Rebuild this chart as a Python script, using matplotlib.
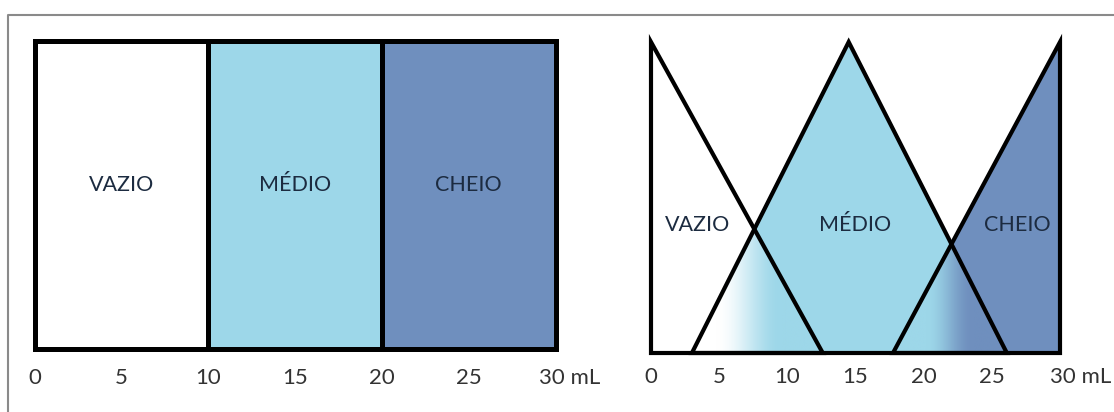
import numpy as np
import matplotlib
matplotlib.use("Agg")
import matplotlib.pyplot as plt
from matplotlib.patches import Polygon, Rectangle
from matplotlib.lines import Line2D
from matplotlib.colors import to_rgba

# ---------------- data ----------------
categories = ["VAZIO", "MÉDIO", "CHEIO"]
crisp_edges = [0, 10, 20, 30]            # crisp set boundaries (mL)
tick_values = [0, 5, 10, 15, 20, 25]
last_tick_value = 30
last_tick_label = "30 mL"

# fuzzy membership functions (x in mL, y membership)
vazio_x = [0, 0, 12.6]
vazio_y = [0, 1, 0]
medio_x = [3, 14.5, 26.1]
medio_y = [0, 1, 0]
cheio_x = [17.75, 30, 30]
cheio_y = [0, 1, 0]

fuzzy_label_x = [3.45, 14.95, 26.9]
fuzzy_label_y = 0.41
crisp_label_y = 0.53

# gradient zones of overlaps (x start, x end)
grad_left = [4.8, 9.5]
grad_right = [20.2, 23.6]

# ---------------- style ----------------
W, H = 1114, 412
DPI = 100
C_EMPTY = "#ffffff"
C_MED = "#9dd7e9"
C_FULL = "#6f8fbe"
LBL_COLOR = "#1c2b40"
TICK_COLOR = "#333333"
FONT = ["Lato", "DejaVu Sans"]
plt.rcParams["font.family"] = FONT
LBL_SIZE = 15.5
TICK_SIZE = 16

fig = plt.figure(figsize=(W / DPI, H / DPI), dpi=DPI)
fig.patch.set_facecolor("white")

def px_rect(left, right, top, bottom):
    return [left / W, (H - bottom) / H, (right - left) / W, (bottom - top) / H]

# outer gray frame (only top and left visible)
fig.add_artist(Line2D([8 / W, 8 / W, 1.0], [0.0, (H - 15) / H, (H - 15) / H],
                      transform=fig.transFigure, color="#8a8a8a", lw=1.5))

def tick_labels(ax, dy_pt, last_dx_pt):
    for v in tick_values:
        ax.annotate(str(v), xy=(v, 0), xycoords=("data", "axes fraction"),
                    xytext=(0, dy_pt), textcoords="offset points",
                    ha="center", va="center", fontsize=TICK_SIZE,
                    color=TICK_COLOR, annotation_clip=False)
    ax.annotate(last_tick_label, xy=(last_tick_value, 0),
                xycoords=("data", "axes fraction"),
                xytext=(last_dx_pt, dy_pt), textcoords="offset points",
                ha="left", va="center", fontsize=TICK_SIZE, color=TICK_COLOR,
                annotation_clip=False)

# ---------------- left: crisp sets ----------------
axL = fig.add_axes(px_rect(34.5, 555.5, 40.5, 348.5))
axL.set_xlim(0, 30)
axL.set_ylim(0, 1)
axL.axis("off")
fills = [C_EMPTY, C_MED, C_FULL]
for i, name in enumerate(categories):
    x0, x1 = crisp_edges[i], crisp_edges[i + 1]
    axL.add_patch(Rectangle((x0, 0), x1 - x0, 1, facecolor=fills[i],
                            edgecolor="black", lw=3.6, joinstyle="miter",
                            clip_on=False))
    axL.text((x0 + x1) / 2, crisp_label_y, name, ha="center", va="center",
             fontsize=LBL_SIZE, color=LBL_COLOR)
tick_labels(axL, -21, -12)

# ---------------- right: fuzzy sets ----------------
axR = fig.add_axes(px_rect(651, 1060, 42, 353))
axR.set_xlim(0, 30)
axR.set_ylim(0, 1)
axR.axis("off")

def seg_intersect(p1, p2, p3, p4):
    (x1, y1), (x2, y2), (x3, y3), (x4, y4) = p1, p2, p3, p4
    d = (x1 - x2) * (y3 - y4) - (y1 - y2) * (x3 - x4)
    t = ((x1 - x3) * (y3 - y4) - (y1 - y3) * (x3 - x4)) / d
    return (x1 + t * (x2 - x1), y1 + t * (y2 - y1))

vazio_pts = list(zip(vazio_x, vazio_y))
medio_pts = list(zip(medio_x, medio_y))
cheio_pts = list(zip(cheio_x, cheio_y))

axR.add_patch(Polygon(medio_pts, closed=True, facecolor=C_MED,
                      edgecolor="none", clip_on=False))
axR.add_patch(Polygon(cheio_pts, closed=True, facecolor=C_FULL,
                      edgecolor="none", clip_on=False))

# overlaps
iL = seg_intersect(vazio_pts[1], vazio_pts[2], medio_pts[0], medio_pts[1])
iR = seg_intersect(medio_pts[1], medio_pts[2], cheio_pts[0], cheio_pts[1])
ovL = [medio_pts[0], iL, vazio_pts[2]]
ovR = [cheio_pts[0], iR, medio_pts[2]]

def gradient_fill(ax, poly_pts, c0, c1, g0, g1):
    xs = [p[0] for p in poly_pts]
    ys = [p[1] for p in poly_pts]
    xmin, xmax = min(xs), max(xs)
    ymax = max(ys)
    n = 400
    xx = np.linspace(xmin, xmax, n)
    t = np.clip((xx - g0) / (g1 - g0), 0, 1)
    t = t * t * (3 - 2 * t)
    a, b = np.array(to_rgba(c0)), np.array(to_rgba(c1))
    img = (a[None, :] * (1 - t[:, None]) + b[None, :] * t[:, None])[None, :, :]
    im = ax.imshow(img, extent=[xmin, xmax, 0, ymax], aspect="auto",
                   origin="lower", interpolation="bilinear", zorder=1.5)
    patch = Polygon(poly_pts, closed=True, facecolor="none", edgecolor="none",
                    transform=ax.transData)
    im.set_clip_path(patch)

gradient_fill(axR, ovL, C_EMPTY, C_MED, grad_left[0], grad_left[1])
gradient_fill(axR, ovR, C_MED, C_FULL, grad_right[0], grad_right[1])
axR.set_xlim(0, 30)
axR.set_ylim(0, 1)

for pts in (vazio_pts, medio_pts, cheio_pts):
    axR.add_patch(Polygon(pts, closed=True, facecolor="none",
                          edgecolor="black", lw=3.0, joinstyle="miter",
                          clip_on=False, zorder=3))

for x, name in zip(fuzzy_label_x, categories):
    axR.text(x, fuzzy_label_y, name, ha="center", va="center",
             fontsize=LBL_SIZE, color=LBL_COLOR, zorder=4)
tick_labels(axR, -17, -7)

fig.savefig("out.png", dpi=DPI, facecolor="white")
